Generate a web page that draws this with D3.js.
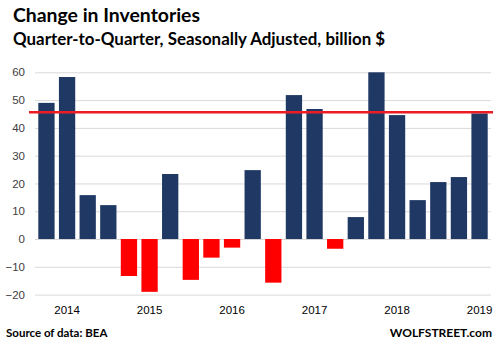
<!DOCTYPE html>
<html>
<head>
<meta charset="utf-8">
<script src="https://cdn.jsdelivr.net/npm/d3@7"></script>
<style>
  body { margin: 0; background: #fff; }
  svg { display: block; }
  .title { font-family: Lato, sans-serif; font-weight: bold; fill: #000; }
  .tick text { font-family: "Liberation Sans", Arial, sans-serif; font-size: 11.5px; }
</style>
</head>
<body>
<svg width="499" height="353"></svg>
<script>
// quarters, the year label sits on the 2nd bar of each group of 4
const quarters = [
  'Q4-13', 'Q1-14', 'Q2-14', 'Q3-14', 'Q4-14', 'Q1-15', 'Q2-15', 'Q3-15',
  'Q4-15', 'Q1-16', 'Q2-16', 'Q3-16', 'Q4-16', 'Q1-17', 'Q2-17', 'Q3-17',
  'Q4-17', 'Q1-18', 'Q2-18', 'Q3-18', 'Q4-18', 'Q1-19'
];
const changes = [
  49, 58.3, 15.8, 12.2, -13.3, -19, 23.4, -14.7,
  -6.7, -3.1, 24.8, -15.7, 51.8, 46.8, -3.5, 7.9,
  60, 44.6, 14, 20.5, 22.3, 45.2
];
const yearTicks = ['Q1-14', 'Q1-15', 'Q1-16', 'Q1-17', 'Q1-18', 'Q1-19'];
const yearLabels = ['2014', '2015', '2016', '2017', '2018', '2019'];
const yTicks = [-20, -10, 0, 10, 20, 30, 40, 50, 60];
const referenceLine = 45.6;

const data = quarters.map((q, i) => ({ quarter: q, value: changes[i] }));

const svg = d3.select('svg');

const xScale = d3.scaleBand()
  .domain(quarters)
  .range([35, 491])
  .paddingInner(0.21)
  .paddingOuter(0.16);

const yScale = d3.scaleLinear()
  .domain([-20, 60])
  .range([294.6, 72.3]);

// gridlines + y labels
const yAxis = d3.axisLeft(yScale)
  .tickValues(yTicks)
  .tickSize(-(491 - 35))
  .tickPadding(10)
  .tickFormat(d3.format('d'));
const yAxisG = svg.append('g')
  .attr('transform', 'translate(35, 0)')
  .call(yAxis);
yAxisG.select('.domain').remove();
yAxisG.selectAll('.tick line').attr('stroke', '#d9d9d9').attr('stroke-width', 1);
yAxisG.selectAll('.tick text').attr('fill', '#404040');

// bars
svg.append('g').selectAll('rect')
  .data(data)
  .join('rect')
  .attr('x', d => xScale(d.quarter))
  .attr('width', xScale.bandwidth())
  .attr('y', d => yScale(Math.max(0, d.value)))
  .attr('height', d => Math.abs(yScale(d.value) - yScale(0)))
  .attr('fill', d => d.value < 0 ? '#ff0000' : '#203864');

// reference line
svg.append('line')
  .attr('x1', 29)
  .attr('x2', 493)
  .attr('y1', yScale(referenceLine))
  .attr('y2', yScale(referenceLine))
  .attr('stroke', '#ed1c24')
  .attr('stroke-width', 2.5);

// x labels
const xAxis = d3.axisBottom(xScale)
  .tickValues(yearTicks)
  .tickSize(0)
  .tickPadding(0)
  .tickFormat(d => yearLabels[yearTicks.indexOf(d)]);
const xAxisG = svg.append('g')
  .attr('transform', 'translate(0, 306)')
  .call(xAxis);
xAxisG.select('.domain').remove();
xAxisG.selectAll('.tick text').attr('fill', '#000');

// titles
svg.append('text').classed('title', true)
  .attr('x', 13).attr('y', 22)
  .style('font-size', '19.4px')
  .text('Change in Inventories');
svg.append('text').classed('title', true)
  .attr('x', 13).attr('y', 45)
  .style('font-size', '16.9px')
  .text('Quarter-to-Quarter, Seasonally Adjusted, billion $');

// footer
svg.append('text').classed('title', true)
  .attr('x', 6).attr('y', 337)
  .style('font-size', '11.5px')
  .text('Source of data: BEA');
svg.append('text').classed('title', true)
  .attr('x', 492).attr('y', 337)
  .attr('text-anchor', 'end')
  .style('font-size', '12px')
  .text('WOLFSTREET.com');
</script>
</body>
</html>
